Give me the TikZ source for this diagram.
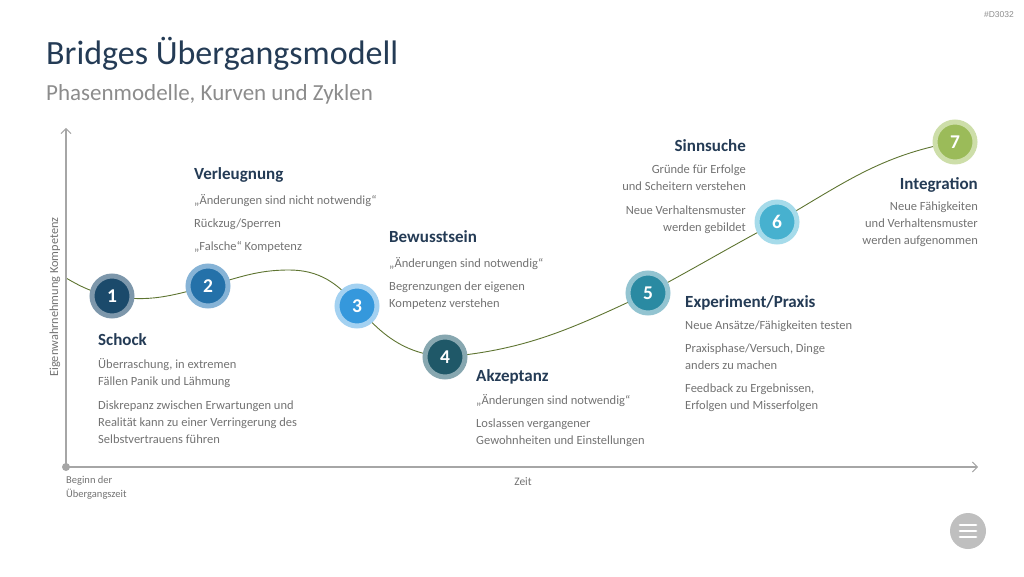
\documentclass[tikz,border=0pt]{standalone}
\usepackage{fontspec}
\setmainfont{Carlito}
\newfontfamily\tagfont{Liberation Sans}
\usetikzlibrary{arrows.meta,backgrounds}

\definecolor{headblue}{HTML}{243B55}
\definecolor{bodygray}{HTML}{727272}
\definecolor{subgray}{HTML}{8C8C8C}
\definecolor{axisgray}{HTML}{A6A6A6}
\definecolor{curvegreen}{HTML}{5E7431}
\definecolor{menugray}{HTML}{BFBFBF}
\definecolor{stage1}{HTML}{1B4A6B}\definecolor{ring1}{HTML}{7D97AB}
\definecolor{stage2}{HTML}{2471A9}\definecolor{ring2}{HTML}{86B3D6}
\definecolor{stage3}{HTML}{3598DC}\definecolor{ring3}{HTML}{A3D1F1}
\definecolor{stage4}{HTML}{1F5868}\definecolor{ring4}{HTML}{87A7B0}
\definecolor{stage5}{HTML}{2A8AA2}\definecolor{ring5}{HTML}{93C4D1}
\definecolor{stage6}{HTML}{47B1CF}\definecolor{ring6}{HTML}{A6DBEA}
\definecolor{stage7}{HTML}{9BBB59}\definecolor{ring7}{HTML}{CDDEA9}

\tikzset{
  stage/.style={circle, fill=stage#1, draw=ring#1, line width=5pt,
    minimum size=40pt, inner sep=0pt, text=white,
    font=\fontsize{19.5}{20}\selectfont\bfseries},
  phasehead/.style={anchor=base west, inner sep=0pt, text=headblue,
    font=\fontsize{17}{20}\selectfont\bfseries},
  phasetext/.style={anchor=north west, inner sep=0pt, align=left, text=bodygray,
    font=\fontsize{12.5}{17}\selectfont, execute at begin node={\rule{0pt}{11pt}}},
  axis/.style={axisgray, line width=1.2pt,
    -{Straight Barb[length=5pt,width=10pt,line width=1pt]}},
}

\begin{document}
\begin{tikzpicture}[x=1pt,y=1pt]
\useasboundingbox (0,0) rectangle (1024,576);

% title
\node[anchor=base west, inner sep=0pt, text=headblue, font=\fontsize{34}{38}\selectfont] (title) at (46,511) {Bridges Übergangsmodell};
\node[anchor=base west, inner sep=0pt, text=subgray, font=\fontsize{23}{26}\selectfont] (subtitle) at (46,475) {Phasenmodelle, Kurven und Zyklen};
\node[anchor=base east, inner sep=0pt, text=subgray, font=\tagfont\fontsize{8.5}{10}\selectfont] (tag) at (1014,558) {\#D3032};

% axes
\coordinate (origin) at (66,109);
\coordinate (ytop) at (66,448);
\coordinate (xend) at (978,109);
\draw[axis] (origin) -- (ytop);
\draw[axis] (origin) -- (xend);
\fill[axisgray] (origin) circle (4pt);
\node[rotate=90, inner sep=0pt, text=bodygray, font=\fontsize{12.3}{14}\selectfont] (ylabel) at (55,279) {Eigenwahrnehmung Kompetenz};
\node[anchor=north west, inner sep=0pt, align=left, text=bodygray, font=\fontsize{10.5}{14}\selectfont] (beginn) at (66,102) {\rule{0pt}{9pt}Beginn der\\Übergangszeit};
\node[anchor=base, inner sep=0pt, text=bodygray, font=\fontsize{11.5}{14}\selectfont] (zeit) at (523,91) {Zeit};

% stages
\foreach \n/\x/\y in {1/112/280, 2/208/290, 3/357/270, 4/445/219, 5/648/283, 6/777/354, 7/955/434}
{
  \node[stage=\n] (c\n) at (\x,\y) {\n};
}

% curve
\coordinate (start) at (66,298);
\coordinate (peak) at (289,306);
\begin{scope}[on background layer]
\draw[curvegreen, line width=0.9pt] (start) to[out=-30,in=170] (c1.center)
  to[out=-10,in=195] (c2.center) to[out=15,in=180] (peak)
  to[out=0,in=130] (c3.center) to[out=-50,in=175] (c4.center)
  to[out=5,in=205] (c5.center) to[out=28,in=208] (c6.center)
  to[out=30,in=190] (c7.center);
\end{scope}

% texts
\node[phasehead] (schock) at (98,231) {Schock};
\node[phasetext] (schocktext) at (98,218) {Überraschung, in extremen\\Fällen Panik und Lähmung\\[7pt]Diskrepanz zwischen Erwartungen und\\Realität kann zu einer Verringerung des\\Selbstvertrauens führen};

\node[phasehead] (verleugnung) at (194,396) {Verleugnung};
\node[phasetext] (verleugnungtext) at (194,382) {„Änderungen sind nicht notwendig“\\[6pt]Rückzug/Sperren\\[6pt]„Falsche“ Kompetenz};

\node[phasehead] (bewusstsein) at (389,333) {Bewusstsein};
\node[phasetext] (bewusstseintext) at (389,319) {„Änderungen sind notwendig“\\[6pt]Begrenzungen der eigenen\\Kompetenz verstehen};

\node[phasehead] (akzeptanz) at (476,195) {Akzeptanz};
\node[phasetext] (akzeptanztext) at (476,182) {„Änderungen sind notwendig“\\[6pt]Loslassen vergangener\\Gewohnheiten und Einstellungen};

\node[phasehead] (experiment) at (685,268) {Experiment/Praxis};
\node[phasetext] (experimenttext) at (685,255) {Neue Ansätze/Fähigkeiten testen\\[6pt]Praxisphase/Versuch, Dinge\\anders zu machen\\[6pt]Feedback zu Ergebnissen,\\Erfolgen und Misserfolgen};

\node[phasehead, anchor=base east] (sinnsuche) at (746,424) {Sinnsuche};
\node[phasetext, anchor=north east, align=right] (sinnsuchetext) at (746,411) {Gründe für Erfolge\\und Scheitern verstehen\\[7pt]Neue Verhaltensmuster\\werden gebildet};

\node[phasehead, anchor=base east] (integration) at (978,386) {Integration};
\node[phasetext, anchor=north east, align=right] (integrationtext) at (978,374) {Neue Fähigkeiten\\und Verhaltensmuster\\werden aufgenommen};

% menu button
\node[circle, fill=menugray, minimum size=36pt, inner sep=0pt] (menu) at (968,45) {};
\foreach \d in {-6,0,6}
{
  \draw[white, line width=2.7pt, line cap=round] ([xshift=-8pt,yshift=\d pt]menu.center) -- ([xshift=8pt,yshift=\d pt]menu.center);
}

\end{tikzpicture}
\end{document}
